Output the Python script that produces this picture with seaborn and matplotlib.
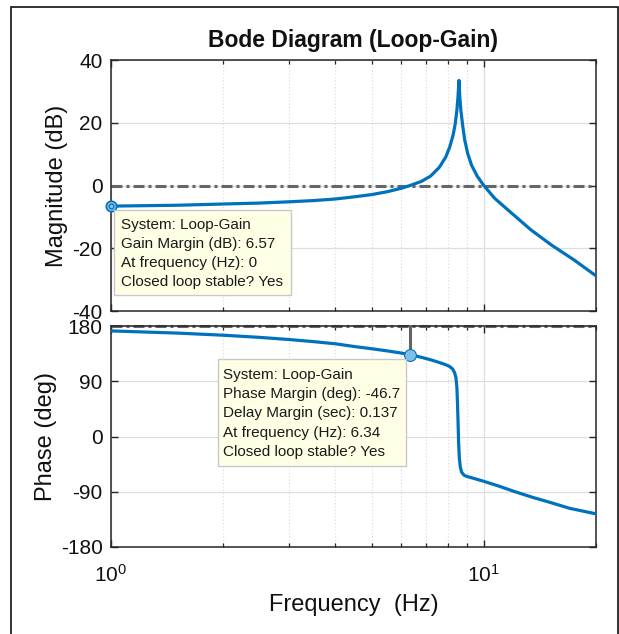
import numpy as np
import pandas as pd
import matplotlib
matplotlib.use("Agg")
import matplotlib.pyplot as plt
import seaborn as sns
from matplotlib.patches import Rectangle
from matplotlib.ticker import LogLocator, NullFormatter, FixedLocator

# ---------------- data ----------------
freq_mag = [1.0, 1.5, 2.0, 2.5, 3.0, 3.5, 4.0, 4.5, 5.0, 5.5, 6.0, 6.34, 6.8,
            7.2, 7.6, 7.9, 8.1, 8.27, 8.38, 8.47, 8.53, 8.58, 8.62, 8.68, 8.78,
            8.89, 9.05, 9.27, 9.6, 10.0, 10.7, 11.9, 13.4, 15.2, 17.5, 20.0]
mag_db = [-6.57, -6.3, -5.9, -5.6, -5.2, -4.8, -4.3, -3.6, -2.9, -2.0, -0.9, 0.0, 1.3,
          3.0, 5.8, 9.0, 12.2, 16.0, 19.5, 24.0, 28.5, 33.5, 28.5, 24.0, 19.0,
          14.5, 10.3, 6.5, 3.0, 0.0, -4.1, -8.9, -14.2, -19.0, -23.8, -28.8]

freq_phase = [1.0, 1.5, 2.0, 2.5, 3.0, 3.5, 4.0, 4.5, 5.0, 5.5, 6.0, 6.34, 6.8,
              7.2, 7.6, 7.9, 8.1, 8.25, 8.35, 8.42, 8.47, 8.5, 8.53, 8.56, 8.6,
              8.65, 8.72, 8.85, 9.0, 9.5, 10.0, 11.0, 12.0, 13.5, 15.0, 17.0, 20.0]
phase_deg = [172, 168.5, 165, 161.5, 158, 154.5, 151, 146.5, 143, 139.5, 136, 133.3, 129,
             125, 120.5, 117, 114, 110, 104, 96, 80, 55, 25, -10, -35,
             -50, -58, -63, -65, -69, -73, -81, -89, -99, -107, -117, -126]

mag_ticks = [-40, -20, 0, 20, 40]
phase_ticks = [-180, -90, 0, 90, 180]
x_ticks = [1, 10]
x_ticklabels = [r"$\mathregular{10^{0}}$", r"$\mathregular{10^{1}}$"]

gm_freq, gm_db = 1.0, -6.57
pm_freq, pm_phase = 6.34, 133.3

gm_text = ["System: Loop-Gain", "Gain Margin (dB): 6.57",
           "At frequency (Hz): 0", "Closed loop stable? Yes"]
pm_text = ["System: Loop-Gain", "Phase Margin (deg): -46.7",
           "Delay Margin (sec): 0.137", "At frequency (Hz): 6.34",
           "Closed loop stable? Yes"]

# ---------------- style ----------------
sns.set_theme(style="white")
plt.rcParams["font.family"] = ["Liberation Sans", "DejaVu Sans"]
plt.rcParams["mathtext.fontset"] = "custom"
plt.rcParams["mathtext.rm"] = "Liberation Sans"
plt.rcParams["mathtext.it"] = "Liberation Sans:italic"
plt.rcParams["mathtext.bf"] = "Liberation Sans:bold"

W, H = 619, 634
fig = plt.figure(figsize=(W / 100, H / 100), dpi=100)
fig.patch.set_facecolor("white")

def fx(px):
    return px / W

def fy(py):
    return 1 - py / H

ax1 = fig.add_axes([fx(111), fy(311), fx(596) - fx(111), fy(60) - fy(311)])
ax2 = fig.add_axes([fx(111), fy(547), fx(596) - fx(111), fy(326) - fy(547)])

blue = "#0072BD"
ref_gray = "#666666"
dashdot = (0, (3.6, 1.3, 1.0, 1.3))

df_mag = pd.DataFrame({"f": freq_mag, "db": mag_db})
df_ph = pd.DataFrame({"f": freq_phase, "deg": phase_deg})

sns.lineplot(data=df_mag, x="f", y="db", ax=ax1, color=blue, lw=2.3,
             estimator=None, zorder=3)
sns.lineplot(data=df_ph, x="f", y="deg", ax=ax2, color=blue, lw=2.3,
             estimator=None, zorder=3)

ax1.axhline(0, color=ref_gray, lw=2.2, ls=dashdot, zorder=2)
ax2.axhline(180, color=ref_gray, lw=2.2, ls=dashdot, zorder=2, clip_on=False)

for ax, yt, ylim in [(ax1, mag_ticks, (-40, 40)), (ax2, phase_ticks, (-180, 180))]:
    ax.set_xscale("log")
    ax.set_xlim(1, 20)
    ax.set_ylim(*ylim)
    ax.set_yticks(yt)
    ax.set_yticklabels([str(v) for v in yt])
    ax.xaxis.set_major_locator(FixedLocator(x_ticks))
    ax.xaxis.set_minor_locator(LogLocator(base=10, subs=range(2, 10)))
    ax.xaxis.set_minor_formatter(NullFormatter())
    ax.set_axisbelow(True)
    ax.grid(which="major", color="#DEDEDE", lw=0.9, ls="-")
    ax.grid(which="minor", axis="x", color="#D8D8D8", lw=0.8, ls=(0, (1, 2)))
    ax.tick_params(which="major", direction="in", length=5, width=1.0,
                   top=True, right=True, bottom=True, left=True,
                   labelsize=15, colors="#262626", labelcolor="#111111", pad=6)
    ax.tick_params(which="minor", direction="in", length=3, width=0.9,
                   top=True, bottom=True, colors="#262626")
    for s in ax.spines.values():
        s.set_visible(True)
        s.set_color("#262626")
        s.set_linewidth(1.1)
    ax.set_xlabel("")
    ax.set_ylabel("")

ax1.tick_params(labelbottom=False)
ax2.set_xticklabels(x_ticklabels)
ax2.tick_params(axis="x", which="major", pad=12)

ax1.set_title("Bode Diagram (Loop-Gain)", fontsize=16.5, fontweight="bold",
              color="#111111", pad=9)
ax1.set_ylabel("Magnitude (dB)", fontsize=17, color="#111111")
ax1.yaxis.set_label_coords(-0.088, 0.5)
ax2.set_ylabel("Phase (deg)", fontsize=17, color="#111111")
ax2.yaxis.set_label_coords(-0.112, 0.5)
ax2.set_xlabel("Frequency  (Hz)", fontsize=17, color="#111111", labelpad=6)

# margin markers
ax1.plot([gm_freq], [gm_db], "o", ms=7.5, mfc="#8DC3EA", mec=blue, mew=1.2,
         clip_on=False, zorder=6)
ax1.plot([gm_freq], [gm_db], "o", ms=3.5, mfc="none", mec=blue, mew=0.9,
         clip_on=False, zorder=7)
ax2.plot([pm_freq, pm_freq], [180, pm_phase], color="#646464", lw=2.2,
         zorder=4, clip_on=False)
ax2.plot([pm_freq], [pm_phase], "o", ms=8.5, mfc="#80BFE8", mec=blue, mew=0.8,
         zorder=6)

# data tips
def datatip(x0, y0, x1, y1, tx, ty0, dy, lines):
    r = Rectangle((fx(x0), fy(y1)), fx(x1) - fx(x0), fy(y0) - fy(y1),
                  transform=fig.transFigure, facecolor="#FFFFE6",
                  edgecolor="#C8C8C8", lw=1.0, zorder=5)
    fig.add_artist(r)
    for i, t in enumerate(lines):
        fig.text(fx(tx), fy(ty0 + i * dy), t, ha="left", va="center",
                 fontsize=11, color="#1a1a1a", zorder=6)

datatip(114, 210, 291, 295, 121, 225, 18.9, gm_text)
datatip(218, 359, 406, 466, 223, 375, 19.2, pm_text)

# figure border
border = Rectangle((fx(11), fy(645)), fx(617.5) - fx(11), fy(7) - fy(645),
                   transform=fig.transFigure, fill=False, edgecolor="#111111",
                   lw=1.2, clip_on=False, zorder=10)
fig.add_artist(border)

fig.savefig("out.png", dpi=100)
